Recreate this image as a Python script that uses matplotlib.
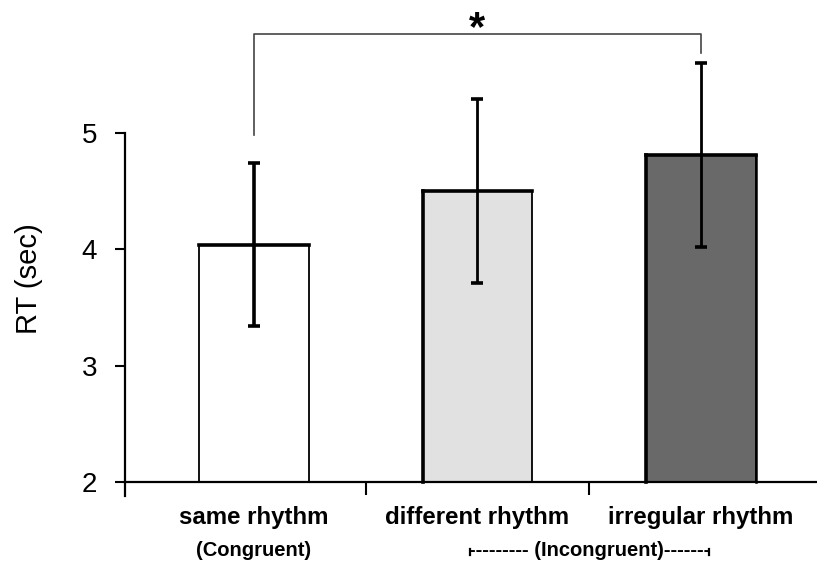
import matplotlib
matplotlib.use("Agg")
import matplotlib.pyplot as plt
import numpy as np

plt.rcParams['font.family'] = ['Liberation Sans', 'DejaVu Sans']

categories = ["same rhythm", "different rhythm", "irregular rhythm"]
means = [4.04, 4.50, 4.81]
errors = [0.70, 0.79, 0.79]
colors = ["#ffffff", "#e1e1e1", "#696969"]
yticks = [2, 3, 4, 5]
group_label_1 = "(Congruent)"
group_label_2 = "(Incongruent)"
sig_label = "*"

W, H = 817, 570
fig = plt.figure(figsize=(W / 100, H / 100), dpi=100)

# axes geometry (pixels)
ax_left_px, ax_bottom_px = 125, 496
ax = fig.add_axes([ax_left_px / W, (H - ax_bottom_px) / H, 1 - ax_left_px / W, ax_bottom_px / H])

x = np.arange(len(categories))
bw = 0.49
ax.set_xlim(-0.577, 2.519)
ax.set_ylim(1.88, 6.143)

bars = ax.bar(x, [m - 2 for m in means], bottom=2, width=bw, color=colors,
              edgecolor="black", linewidth=1.3, zorder=2)
# thicker top / left edges as in the original shading
for i, (xi, m) in enumerate(zip(x, means)):
    ax.plot([xi - bw / 2, xi + bw / 2], [m, m], color="black", lw=2.6,
            solid_capstyle="projecting", zorder=3)
    if i > 0:
        ax.plot([xi - bw / 2, xi - bw / 2], [2, m], color="black", lw=2.6, zorder=3)
    if i == 2:
        ax.plot([xi + bw / 2, xi + bw / 2], [2, m], color="black", lw=1.8, zorder=3)

for i, (xi, m, e) in enumerate(zip(x, means, errors)):
    ax.errorbar(xi, m, yerr=e, fmt="none", ecolor="black",
                elinewidth=2.6 if i == 0 else 2.0, capsize=4.0, capthick=2.6, zorder=4)

# spines
for s in ["top", "right"]:
    ax.spines[s].set_visible(False)
ax.spines["bottom"].set_position(("data", 2))
ax.spines["left"].set_bounds(1.88, 5)
ax.spines["left"].set_linewidth(1.6)
ax.spines["bottom"].set_linewidth(1.6)

ax.set_yticks(yticks)
ax.set_yticklabels([str(t) for t in yticks], fontsize=20)
ax.tick_params(axis="y", direction="out", length=7.2, width=1.5, pad=13)

ax.set_xticks([0.5, 1.5])
ax.set_xticklabels([])
ax.tick_params(axis="x", direction="out", length=9.5, width=1.5)

# category labels
for xi, c in zip(x, categories):
    ax.text(xi, 1.699, c, ha="center", va="center", fontsize=17.3, fontweight="bold",
            clip_on=False)

ax.text(x[0], 1.41, group_label_1, ha="center", va="center", fontsize=14.5,
        fontweight="bold", clip_on=False)
inc = ax.text((x[1] + x[2]) / 2, 1.41, "--------- " + group_label_2 + "-------",
              ha="center", va="center", fontsize=14.5, fontweight="bold", clip_on=False)

fig.canvas.draw()
bb = inc.get_window_extent().transformed(ax.transData.inverted())
ybase = bb.y0 + 0.28 * (bb.y1 - bb.y0)
for xe in (bb.x0 + 0.006, bb.x1 - 0.006):
    ax.plot([xe, xe], [ybase, ybase + 0.05], color="black", lw=1.6, clip_on=False)

# significance bracket
ax.plot([x[0], x[0], x[2], x[2]], [4.98, 5.85, 5.85, 5.69], color="#444444", lw=1.2,
        clip_on=False, zorder=5)
ax.text(x[1], 5.80, sig_label, ha="center", va="baseline", fontsize=30, fontweight="bold",
        clip_on=False)

fig.text(29 / W, 1 - 279 / H, "RT (sec)", rotation=90, ha="center", va="center", fontsize=21)

fig.savefig("out.png", dpi=100)
